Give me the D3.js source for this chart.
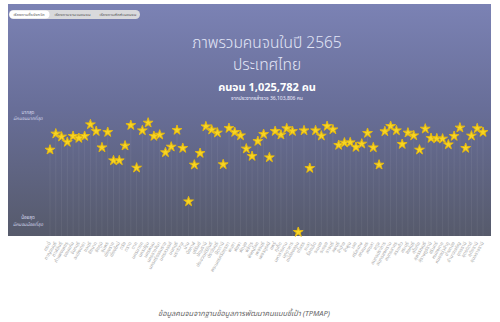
<!DOCTYPE html>
<html>
<head>
<meta charset="utf-8">
<script src="https://cdn.jsdelivr.net/npm/d3@7"></script>
<style>
  body { margin: 0; background: #fff; font-family: "Noto Sans", "Noto Sans Thai", sans-serif; }
</style>
</head>
<body>
<script>
// จังหวัด (76) – order as on the chart
const provinces = ["กระบี่","กาญจนบุรี","กาฬสินธุ์","กำแพงเพชร","ขอนแก่น","จันทบุรี","ฉะเชิงเทรา","ชลบุรี","ชัยนาท","ชัยภูมิ",
  "ชุมพร","เชียงราย","เชียงใหม่","ตรัง","ตราด","ตาก","นครนายก","นครปฐม","นครพนม","นครราชสีมา",
  "นครศรีธรรมราช","นครสวรรค์","นนทบุรี","นราธิวาส","น่าน","บึงกาฬ","บุรีรัมย์","ปทุมธานี","ประจวบคีรีขันธ์","ปราจีนบุรี",
  "ปัตตานี","พระนครศรีอยุธยา","พะเยา","พังงา","พัทลุง","พิจิตร","พิษณุโลก","เพชรบุรี","เพชรบูรณ์","แพร่",
  "ภูเก็ต","มหาสารคาม","มุกดาหาร","แม่ฮ่องสอน","ยโสธร","ยะลา","ร้อยเอ็ด","ระนอง","ระยอง","ราชบุรี",
  "ลพบุรี","ลำปาง","ลำพูน","เลย","ศรีสะเกษ","สกลนคร","สงขลา","สตูล","สมุทรปราการ","สมุทรสงคราม",
  "สมุทรสาคร","สระแก้ว","สระบุรี","สิงห์บุรี","สุโขทัย","สุพรรณบุรี","สุราษฎร์ธานี","สุรินทร์","หนองคาย","หนองบัวลำภู",
  "อ่างทอง","อำนาจเจริญ","อุดรธานี","อุตรดิตถ์","อุทัยธานี","อุบลราชธานี"];

// poverty score per province (0 = least, 100 = most)
const scores = [71.4,84.8,82.3,77.8,82.8,81.1,82.8,92.5,86.9,73.3,
  86.1,62.5,62.5,74.8,91.9,56.4,87.5,93.9,82.8,83.9,
  69.2,73.9,87.8,72.8,28.3,58.9,68.6,90.8,88.1,85.6,
  59.2,89.4,86.1,83.3,72.3,66.1,78.6,84.4,65.0,86.9,
  83.9,89.2,86.9,2.8,87.5,56.1,87.5,83.1,91.1,88.3,
  75.3,77.3,77.5,73.6,76.4,85.3,73.3,58.9,86.7,91.1,
  87.5,76.1,85.6,83.3,71.4,88.9,81.1,80.8,80.6,75.8,
  82.8,89.8,72.8,83.1,89.2,86.1];

const tabs = ["เรียงตามชื่อจังหวัด", "เรียงตามจำนวนคนจน", "เรียงตามสัดส่วนคนจน"];

const w = 500, h = 322;
const panel = {x: 8, y: 4, w: 483, h: 232};

const svg = d3.select("body").append("svg")
  .attr("width", w)
  .attr("height", h);

// background gradient of the panel
const grad = svg.append("defs").append("linearGradient")
  .attr("id", "bg").attr("x1", 0).attr("y1", 0).attr("x2", 0).attr("y2", 1);
grad.append("stop").attr("offset", "0%").attr("stop-color", "#7b82b4");
grad.append("stop").attr("offset", "45%").attr("stop-color", "#686e98");
grad.append("stop").attr("offset", "100%").attr("stop-color", "#565a6b");

svg.append("rect")
  .attr("x", panel.x).attr("y", panel.y)
  .attr("width", panel.w).attr("height", panel.h)
  .attr("fill", "url(#bg)");

const x = d3.scalePoint()
  .domain(provinces)
  .range([50, 483]);

const y = d3.scaleLinear()
  .domain([0, 100])
  .range([235, 115]);

// tabs
const tabG = svg.append("g");
tabG.append("rect")
  .attr("x", 9).attr("y", 10).attr("width", 131).attr("height", 9)
  .attr("rx", 4.5).attr("fill", "#d9d9dc");
const tabW = [40, 47, 44];
let tx = 9;
tabs.forEach((t, i) => {
  if (i == 0) {
    tabG.append("rect").attr("x", tx + 0.5).attr("y", 10.5).attr("width", tabW[i]).attr("height", 8)
      .attr("rx", 4).attr("fill", "#fff");
  }
  tabG.append("text")
    .attr("x", tx + tabW[i] / 2).attr("y", 16.3)
    .attr("text-anchor", "middle")
    .style("font-size", "4.2px")
    .attr("fill", "#555")
    .text(t);
  tx += tabW[i];
});

// titles
const cx = 267;
svg.append("text").attr("x", cx).attr("y", 48).attr("text-anchor", "middle")
  .style("font-size", "15.5px").style("font-weight", 300).attr("fill", "#e2e5f6")
  .text("ภาพรวมคนจนในปี 2565");
svg.append("text").attr("x", cx).attr("y", 70).attr("text-anchor", "middle")
  .style("font-size", "15.5px").style("font-weight", 300).attr("fill", "#e2e5f6")
  .text("ประเทศไทย");
svg.append("text").attr("x", cx).attr("y", 91).attr("text-anchor", "middle")
  .style("font-size", "11px").style("font-weight", 700).attr("fill", "#fff")
  .text("คนจน 1,025,782 คน");
svg.append("text").attr("x", cx).attr("y", 100).attr("text-anchor", "middle")
  .style("font-size", "5px").attr("fill", "#eef")
  .text("จากประชากรสำรวจ 36,103,806 คน");

// y labels
const yl = svg.append("g").attr("fill", "#d6d9ee").style("font-size", "4.6px").attr("text-anchor", "middle");
yl.append("text").attr("x", 28).attr("y", 114).text("มากสุด");
yl.append("text").attr("x", 28).attr("y", 119.5).style("font-style", "italic").text("มีคนจนมากที่สุด");
yl.append("text").attr("x", 28).attr("y", 219).text("น้อยสุด");
yl.append("text").attr("x", 28).attr("y", 226).style("font-style", "italic").text("มีคนจนน้อยที่สุด");

// vertical guide lines
svg.selectAll("line.guide")
  .data(provinces)
  .enter()
  .append("line")
  .attr("class", "guide")
  .attr("x1", d => x(d)).attr("x2", d => x(d))
  .attr("y1", (d, i) => y(scores[i]))
  .attr("y2", panel.y + panel.h)
  .attr("stroke", "#ffffff")
  .attr("stroke-opacity", 0.1)
  .attr("stroke-width", 0.6);

// stars
const star = d3.symbol().type(d3.symbolStar).size(30);
svg.selectAll("path.star")
  .data(provinces)
  .enter()
  .append("path")
  .attr("class", "star")
  .attr("d", star)
  .attr("transform", (d, i) => "translate(" + x(d) + "," + (y(scores[i]) + 0.5) + ")")
  .attr("fill", "#f8d523")
  .attr("stroke", "#e3b812")
  .attr("stroke-width", 1)
  .attr("stroke-linejoin", "round");

// province labels
svg.selectAll("text.prov")
  .data(provinces)
  .enter()
  .append("text")
  .attr("class", "prov")
  .attr("text-anchor", "end")
  .attr("transform", d => "translate(" + (x(d) + 1) + ",243) rotate(-60)")
  .style("font-size", "4.8px")
  .attr("fill", "#a8a8a8")
  .text(d => d);

// source
svg.append("text")
  .attr("x", 244).attr("y", 316).attr("text-anchor", "middle")
  .style("font-size", "7.5px").style("font-style", "italic")
  .attr("fill", "#666")
  .text("ข้อมูลคนจนจากฐานข้อมูลการพัฒนาคนแบบชี้เป้า (TPMAP)");
</script>
</body>
</html>
